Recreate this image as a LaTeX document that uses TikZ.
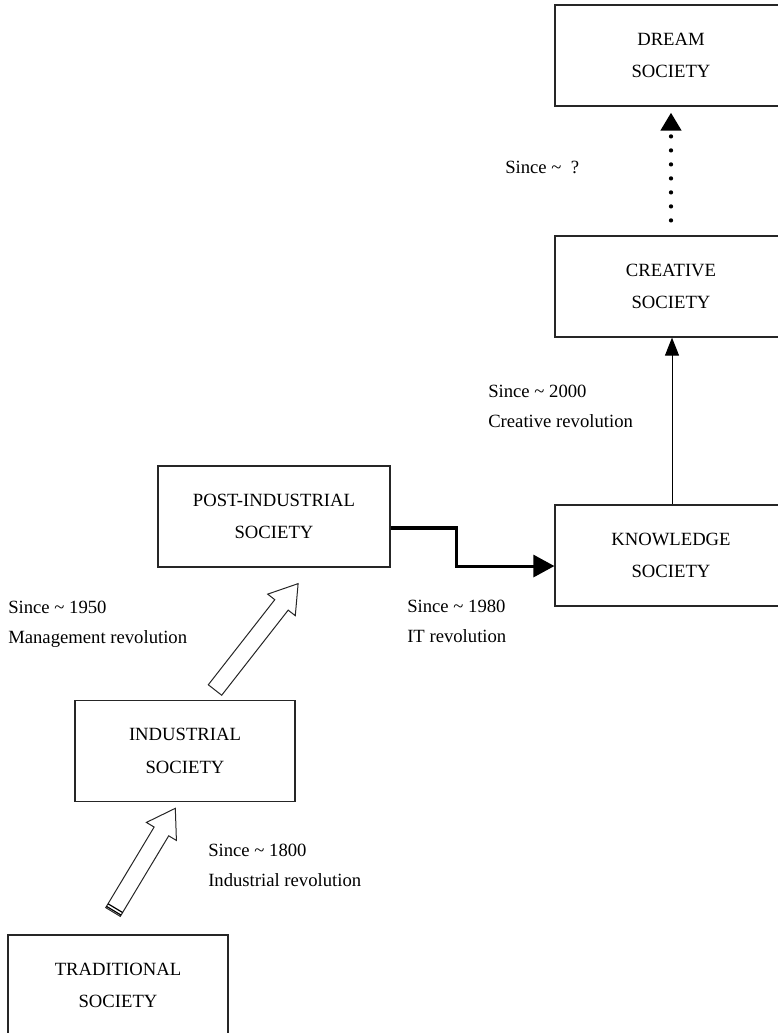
\documentclass[tikz,border=0pt]{standalone}
\usepackage{fontspec}
\setmainfont{Liberation Serif}
\usetikzlibrary{positioning, arrows.meta}
\newcommand{\hollowarrow}[3]{%
    \draw[blockarrow, shift={#1}, rotate=#2]
        (0,-8.5) -- ({#3-27},-8.5) -- ({#3-27},-17.5) -- (#3,0)
        -- ({#3-27},17.5) -- ({#3-27},8.5) -- (0,8.5) -- cycle;
}
\tikzset{
    >=Triangle,
    society/.style={
        draw=black!85,
        line width=0.9pt,
        minimum width=174pt,
        minimum height=75.75pt,
        align=center,
        font=\fontsize{14}{24.3}\selectfont
    },
    narrow/.style={minimum width=165pt},
    since/.style={
        anchor=base west,
        align=left,
        inner sep=0pt,
        font=\fontsize{14}{22.5}\selectfont
    },
    blockarrow/.style={draw=black!85, line width=0.75pt, fill=white},
    flow/.style={->, line width=2.3pt, >={Triangle[length=15.75pt, width=16.5pt]}},
    thinflow/.style={->, line width=0.7pt, >={Triangle[length=13.5pt, width=10.5pt]}},
    dreamflow/.style={->, line width=3.2pt, line cap=round, dash pattern=on 0pt off 10.5pt,
        >={Triangle[length=13.5pt, width=15pt]}},
}
\begin{document}
\begin{tikzpicture}[x=0.75pt, y=0.75pt]
    \useasboundingbox (0,0) rectangle (778,-1033);
    \clip (0,0) rectangle (778,-1033);

    % societies
    \node[society] (dream)       at (671,-55.5)  {DREAM\\SOCIETY};
    \node[society] (creative)    at (671,-286.5) {CREATIVE\\SOCIETY};
    \node[society] (knowledge)   at (671,-555.5) {KNOWLEDGE\\SOCIETY};
    \node[society] (postind)     at (274,-516.5) {POST-INDUSTRIAL\\SOCIETY};
    \node[society, narrow] (industrial)  at (185,-751)   {INDUSTRIAL\\SOCIETY};
    \node[society, narrow] (traditional) at (118,-985.5) {TRADITIONAL\\SOCIETY};

    % revolutions
    \node[since] (l1800) at (208,-886) {Since \textasciitilde{} 1800\\Industrial revolution};
    \node[since] (l1950) at (8,-643)   {Since \textasciitilde{} 1950\\Management revolution};
    \node[since] (l1980) at (407,-642) {Since \textasciitilde{} 1980\\IT revolution};
    \node[since] (l2000) at (488,-427) {Since \textasciitilde{} 2000\\Creative revolution};
    \node[since] (lnext) at (505,-173) {Since \textasciitilde{} \ ?};

    % transitions
    \hollowarrow{(113,-912)}{59}{121}
    \draw[line width=0.9pt, shift={(113,-912)}, rotate=59]
        (1.5,-8.5) -- (1.5,8.5) (4.5,-8.5) -- (4.5,8.5);
    \hollowarrow{(215,-690)}{52}{135}
    \draw[flow] ([yshift=-8.6pt]postind.east) -- ++(66,0) |- ([yshift=-7.9pt]knowledge.west);
    \draw[thinflow] ([xshift=0.75pt]knowledge.north) -- ([xshift=0.75pt]creative.south);
    \draw[dreamflow, shorten <=11.25pt, shorten >=4.5pt] (creative.north) -- (dream.south);
\end{tikzpicture}
\end{document}
